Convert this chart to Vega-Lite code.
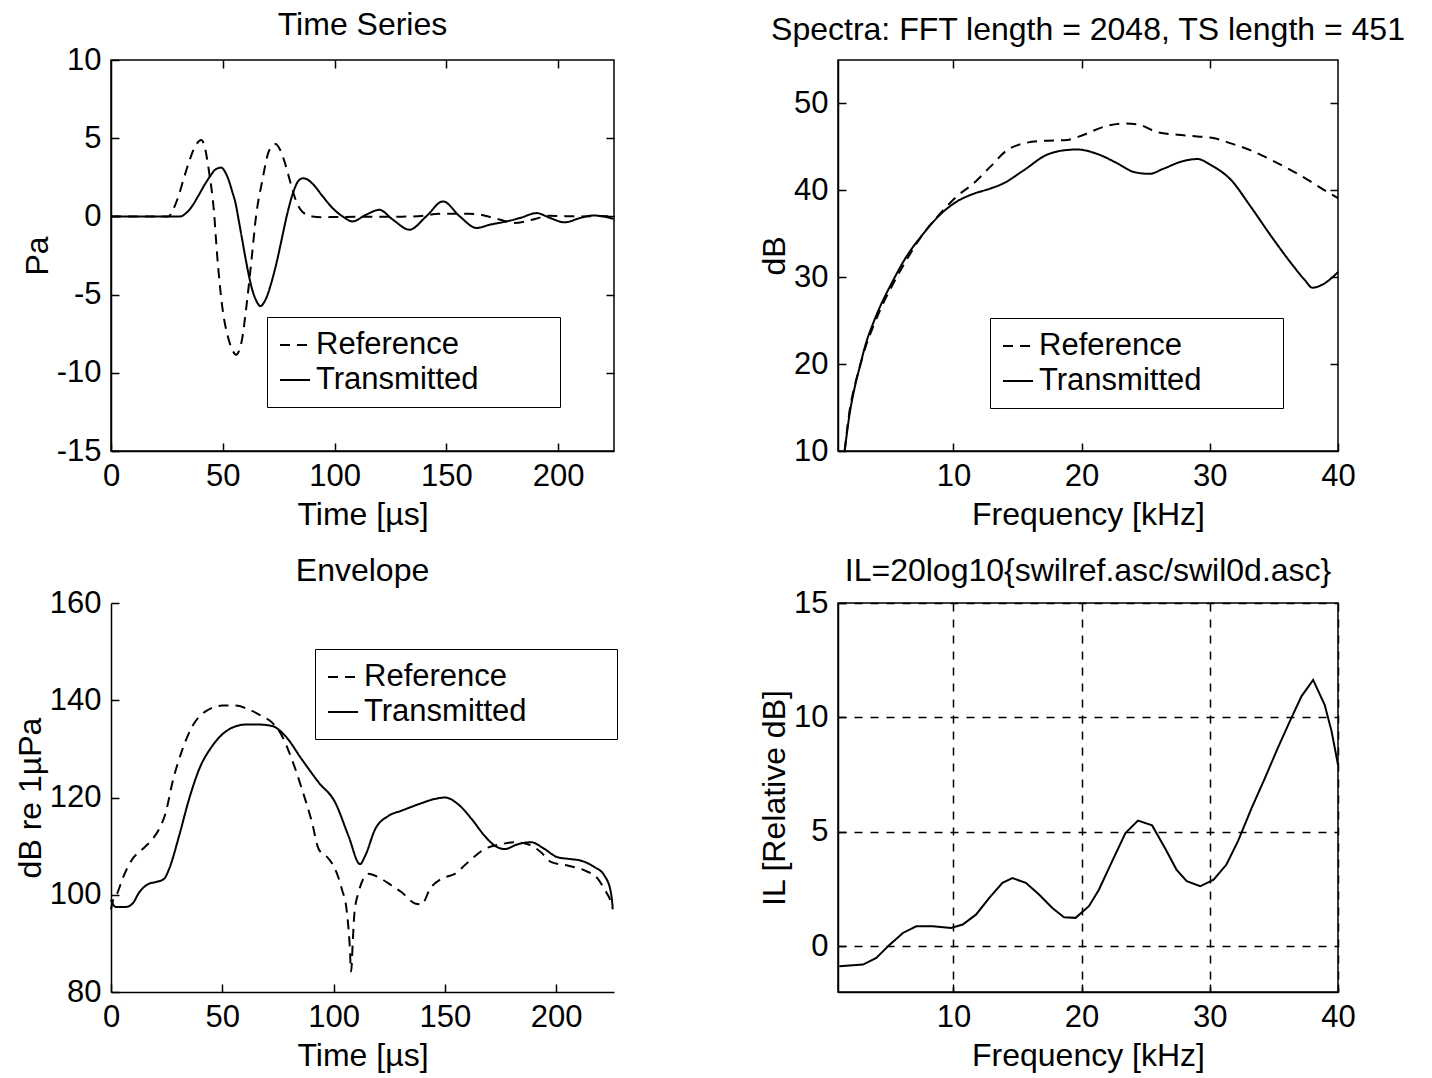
{
  "$schema": "https://vega.github.io/schema/vega-lite/v6.json",
  "padding": {"left": 14, "top": 8, "right": 5, "bottom": 5},
  "background": "white",
  "config": {
    "font": "Liberation Sans",
    "view": {"stroke": "black", "strokeWidth": 1.5},
    "axis": {
      "labelFont": "Liberation Sans", "labelFontSize": 31, "labelColor": "black",
      "titleFont": "Liberation Sans", "titleFontSize": 32, "titleFontWeight": "normal", "titleColor": "black",
      "domainColor": "black", "domainWidth": 1.5, "tickColor": "black", "tickWidth": 1.5,
      "tickSize": -8, "labelPadding": 18, "grid": false, "labelFlush": false, "labelOverlap": false
    },
    "axisX": {"titlePadding": 8},
    "axisY": {"titlePadding": 2},
    "title": {"font": "Liberation Sans", "fontSize": 32, "fontWeight": "normal", "color": "black"},
    "legend": {
      "orient": "none", "title": null, "labelFont": "Liberation Sans", "labelFontSize": 31, "labelColor": "black",
      "labelLimit": 500, "symbolType": "stroke", "symbolSize": 900, "symbolStrokeWidth": 2, "symbolStrokeColor": "black",
      "strokeColor": "black", "fillColor": "white", "padding": 12, "rowPadding": 4, "labelOffset": 5
    },
    "line": {"color": "black", "strokeWidth": 2}
  },
  "datasets": {
    "ts": [
      {"series": "Reference", "t": 0, "v": 0}, {"series": "Reference", "t": 10, "v": 0}, {"series": "Reference", "t": 20, "v": 0},
      {"series": "Reference", "t": 25.7, "v": 0}, {"series": "Reference", "t": 28, "v": 0.5}, {"series": "Reference", "t": 30.2, "v": 1.3},
      {"series": "Reference", "t": 32.5, "v": 2.4}, {"series": "Reference", "t": 34.7, "v": 3.4}, {"series": "Reference", "t": 37.7, "v": 4.5},
      {"series": "Reference", "t": 40.4, "v": 4.88}, {"series": "Reference", "t": 42, "v": 4.4}, {"series": "Reference", "t": 43.7, "v": 3.0},
      {"series": "Reference", "t": 46, "v": 0.4}, {"series": "Reference", "t": 47.5, "v": -2.5}, {"series": "Reference", "t": 49.7, "v": -5.7},
      {"series": "Reference", "t": 52.7, "v": -7.9}, {"series": "Reference", "t": 54.5, "v": -8.6}, {"series": "Reference", "t": 56, "v": -8.85},
      {"series": "Reference", "t": 57.5, "v": -8.5}, {"series": "Reference", "t": 58.7, "v": -7.8}, {"series": "Reference", "t": 60.2, "v": -6.2},
      {"series": "Reference", "t": 63.2, "v": -2.3}, {"series": "Reference", "t": 64.7, "v": -0.2}, {"series": "Reference", "t": 67.7, "v": 2.3},
      {"series": "Reference", "t": 70.7, "v": 4.2}, {"series": "Reference", "t": 73.7, "v": 4.63}, {"series": "Reference", "t": 75.5, "v": 4.3},
      {"series": "Reference", "t": 77.4, "v": 3.6}, {"series": "Reference", "t": 80.4, "v": 2.1}, {"series": "Reference", "t": 82.6, "v": 1.06},
      {"series": "Reference", "t": 85.6, "v": 0.3}, {"series": "Reference", "t": 90, "v": 0}, {"series": "Reference", "t": 95, "v": -0.05},
      {"series": "Reference", "t": 100, "v": -0.04}, {"series": "Reference", "t": 110, "v": -0.03}, {"series": "Reference", "t": 120, "v": -0.03},
      {"series": "Reference", "t": 130, "v": -0.02}, {"series": "Reference", "t": 140, "v": 0.05}, {"series": "Reference", "t": 145, "v": 0.15},
      {"series": "Reference", "t": 150, "v": 0.17}, {"series": "Reference", "t": 160, "v": 0.17}, {"series": "Reference", "t": 165, "v": 0.12},
      {"series": "Reference", "t": 170, "v": -0.05}, {"series": "Reference", "t": 175, "v": -0.25}, {"series": "Reference", "t": 180, "v": -0.42},
      {"series": "Reference", "t": 186, "v": -0.3}, {"series": "Reference", "t": 190, "v": -0.15}, {"series": "Reference", "t": 196, "v": 0.04},
      {"series": "Reference", "t": 202, "v": 0.02}, {"series": "Reference", "t": 210, "v": 0}, {"series": "Reference", "t": 218, "v": 0.02},
      {"series": "Reference", "t": 225, "v": 0},
      {"series": "Transmitted", "t": 0, "v": 0}, {"series": "Transmitted", "t": 10, "v": 0}, {"series": "Transmitted", "t": 20, "v": 0},
      {"series": "Transmitted", "t": 31, "v": 0}, {"series": "Transmitted", "t": 33.5, "v": 0.2}, {"series": "Transmitted", "t": 36.2, "v": 0.64},
      {"series": "Transmitted", "t": 39, "v": 1.3}, {"series": "Transmitted", "t": 42.2, "v": 2.1}, {"series": "Transmitted", "t": 44.5, "v": 2.6},
      {"series": "Transmitted", "t": 46.7, "v": 3.0}, {"series": "Transmitted", "t": 49.4, "v": 3.12}, {"series": "Transmitted", "t": 51, "v": 2.85},
      {"series": "Transmitted", "t": 52.7, "v": 2.3}, {"series": "Transmitted", "t": 54.2, "v": 1.6}, {"series": "Transmitted", "t": 55.7, "v": 0.85},
      {"series": "Transmitted", "t": 57.2, "v": -0.3}, {"series": "Transmitted", "t": 58.7, "v": -1.5}, {"series": "Transmitted", "t": 60.2, "v": -2.7},
      {"series": "Transmitted", "t": 61.7, "v": -3.8}, {"series": "Transmitted", "t": 63.2, "v": -4.7}, {"series": "Transmitted", "t": 64.7, "v": -5.3},
      {"series": "Transmitted", "t": 66.8, "v": -5.73}, {"series": "Transmitted", "t": 69.2, "v": -5.3}, {"series": "Transmitted", "t": 72.2, "v": -4.0},
      {"series": "Transmitted", "t": 74, "v": -3.0}, {"series": "Transmitted", "t": 76, "v": -1.7}, {"series": "Transmitted", "t": 78.9, "v": 0.2},
      {"series": "Transmitted", "t": 81.9, "v": 1.7}, {"series": "Transmitted", "t": 84, "v": 2.3}, {"series": "Transmitted", "t": 85.9, "v": 2.44},
      {"series": "Transmitted", "t": 88, "v": 2.35}, {"series": "Transmitted", "t": 90.1, "v": 2.1}, {"series": "Transmitted", "t": 94.6, "v": 1.3},
      {"series": "Transmitted", "t": 99.1, "v": 0.53}, {"series": "Transmitted", "t": 103.6, "v": 0}, {"series": "Transmitted", "t": 108, "v": -0.32},
      {"series": "Transmitted", "t": 114, "v": 0.1}, {"series": "Transmitted", "t": 120, "v": 0.42}, {"series": "Transmitted", "t": 126, "v": -0.2},
      {"series": "Transmitted", "t": 133.5, "v": -0.85}, {"series": "Transmitted", "t": 141, "v": 0}, {"series": "Transmitted", "t": 148.5, "v": 0.96},
      {"series": "Transmitted", "t": 156, "v": 0}, {"series": "Transmitted", "t": 163.5, "v": -0.74}, {"series": "Transmitted", "t": 169.5, "v": -0.53},
      {"series": "Transmitted", "t": 177, "v": -0.32}, {"series": "Transmitted", "t": 183, "v": -0.1}, {"series": "Transmitted", "t": 190.4, "v": 0.21},
      {"series": "Transmitted", "t": 196.4, "v": -0.1}, {"series": "Transmitted", "t": 203, "v": -0.38}, {"series": "Transmitted", "t": 209.9, "v": -0.1},
      {"series": "Transmitted", "t": 215.8, "v": 0.06}, {"series": "Transmitted", "t": 220, "v": 0}, {"series": "Transmitted", "t": 224.8, "v": -0.15}
    ],
    "spec": [
      {"series": "Reference", "f": 1.52, "db": 10}, {"series": "Reference", "f": 1.91, "db": 14.7}, {"series": "Reference", "f": 2.3, "db": 17.5},
      {"series": "Reference", "f": 2.7, "db": 19.7}, {"series": "Reference", "f": 3.2, "db": 22.2}, {"series": "Reference", "f": 3.74, "db": 24.3},
      {"series": "Reference", "f": 4.4, "db": 26.6}, {"series": "Reference", "f": 5.04, "db": 28.5}, {"series": "Reference", "f": 6.35, "db": 32},
      {"series": "Reference", "f": 7.65, "db": 35}, {"series": "Reference", "f": 8.96, "db": 37.3}, {"series": "Reference", "f": 10.26, "db": 39.3},
      {"series": "Reference", "f": 11.57, "db": 40.8}, {"series": "Reference", "f": 12.87, "db": 42.7}, {"series": "Reference", "f": 14.17, "db": 44.6},
      {"series": "Reference", "f": 15.48, "db": 45.4}, {"series": "Reference", "f": 17.04, "db": 45.7}, {"series": "Reference", "f": 18.87, "db": 45.8},
      {"series": "Reference", "f": 20.17, "db": 46.4}, {"series": "Reference", "f": 21.7, "db": 47.3}, {"series": "Reference", "f": 23.3, "db": 47.7},
      {"series": "Reference", "f": 24.35, "db": 47.6}, {"series": "Reference", "f": 25.9, "db": 46.7}, {"series": "Reference", "f": 27.5, "db": 46.4},
      {"series": "Reference", "f": 29.04, "db": 46.2}, {"series": "Reference", "f": 30.35, "db": 46.0}, {"series": "Reference", "f": 31.65, "db": 45.4},
      {"series": "Reference", "f": 33.2, "db": 44.6}, {"series": "Reference", "f": 34.8, "db": 43.5}, {"series": "Reference", "f": 36.35, "db": 42.3},
      {"series": "Reference", "f": 37.65, "db": 41.2}, {"series": "Reference", "f": 38.96, "db": 40.0}, {"series": "Reference", "f": 40, "db": 39.1},
      {"series": "Transmitted", "f": 1.52, "db": 10}, {"series": "Transmitted", "f": 1.91, "db": 14.3}, {"series": "Transmitted", "f": 2.3, "db": 17.3},
      {"series": "Transmitted", "f": 2.7, "db": 19.7}, {"series": "Transmitted", "f": 3.2, "db": 22.5}, {"series": "Transmitted", "f": 3.74, "db": 24.7},
      {"series": "Transmitted", "f": 4.4, "db": 27}, {"series": "Transmitted", "f": 5.04, "db": 28.9}, {"series": "Transmitted", "f": 6.35, "db": 32.4},
      {"series": "Transmitted", "f": 7.65, "db": 35.0}, {"series": "Transmitted", "f": 8.96, "db": 37.2}, {"series": "Transmitted", "f": 10.26, "db": 38.7},
      {"series": "Transmitted", "f": 11.57, "db": 39.6}, {"series": "Transmitted", "f": 12.87, "db": 40.2}, {"series": "Transmitted", "f": 13.9, "db": 40.8},
      {"series": "Transmitted", "f": 15.48, "db": 42.3}, {"series": "Transmitted", "f": 17.3, "db": 44.1}, {"series": "Transmitted", "f": 18.6, "db": 44.6},
      {"series": "Transmitted", "f": 19.65, "db": 44.7}, {"series": "Transmitted", "f": 21.2, "db": 44.2}, {"series": "Transmitted", "f": 22.8, "db": 43.1},
      {"series": "Transmitted", "f": 24.1, "db": 42.1}, {"series": "Transmitted", "f": 25.3, "db": 41.9}, {"series": "Transmitted", "f": 26.4, "db": 42.5},
      {"series": "Transmitted", "f": 28.0, "db": 43.4}, {"series": "Transmitted", "f": 29.04, "db": 43.6}, {"series": "Transmitted", "f": 30.1, "db": 42.9},
      {"series": "Transmitted", "f": 31.65, "db": 41.2}, {"series": "Transmitted", "f": 33.2, "db": 38.1}, {"series": "Transmitted", "f": 34.8, "db": 34.7},
      {"series": "Transmitted", "f": 36.35, "db": 31.6}, {"series": "Transmitted", "f": 37.4, "db": 29.7}, {"series": "Transmitted", "f": 38.0, "db": 28.8},
      {"series": "Transmitted", "f": 38.96, "db": 29.3}, {"series": "Transmitted", "f": 40, "db": 30.6}
    ],
    "env": [
      {"series": "Reference", "t": 0, "db": 97}, {"series": "Reference", "t": 0.7, "db": 98.5}, {"series": "Reference", "t": 3, "db": 100.5},
      {"series": "Reference", "t": 5.2, "db": 103.3}, {"series": "Reference", "t": 9.7, "db": 107.4}, {"series": "Reference", "t": 14.2, "db": 109.4},
      {"series": "Reference", "t": 18.7, "db": 111.5}, {"series": "Reference", "t": 21.6, "db": 113.5}, {"series": "Reference", "t": 24.6, "db": 116.9},
      {"series": "Reference", "t": 27.6, "db": 123.1}, {"series": "Reference", "t": 32.1, "db": 129.9}, {"series": "Reference", "t": 36.6, "db": 134.7},
      {"series": "Reference", "t": 42.5, "db": 137.7}, {"series": "Reference", "t": 50, "db": 138.9}, {"series": "Reference", "t": 56, "db": 138.9},
      {"series": "Reference", "t": 61.9, "db": 138.1}, {"series": "Reference", "t": 67.9, "db": 136.7}, {"series": "Reference", "t": 72.4, "db": 135.4},
      {"series": "Reference", "t": 76.9, "db": 132.6}, {"series": "Reference", "t": 81.3, "db": 127.8}, {"series": "Reference", "t": 85.8, "db": 121.7},
      {"series": "Reference", "t": 90.3, "db": 114.9}, {"series": "Reference", "t": 93.3, "db": 109.4}, {"series": "Reference", "t": 97.8, "db": 107.4},
      {"series": "Reference", "t": 100.7, "db": 105.3}, {"series": "Reference", "t": 103.7, "db": 101.2}, {"series": "Reference", "t": 106, "db": 96.4},
      {"series": "Reference", "t": 107.2, "db": 90}, {"series": "Reference", "t": 107.9, "db": 84.2}, {"series": "Reference", "t": 108.6, "db": 90},
      {"series": "Reference", "t": 109.3, "db": 95.8}, {"series": "Reference", "t": 111.2, "db": 100.5}, {"series": "Reference", "t": 115.7, "db": 104.3},
      {"series": "Reference", "t": 120.1, "db": 103.6}, {"series": "Reference", "t": 126.1, "db": 101.9}, {"series": "Reference", "t": 130.6, "db": 100.5},
      {"series": "Reference", "t": 136.6, "db": 98.2}, {"series": "Reference", "t": 139.6, "db": 98}, {"series": "Reference", "t": 143.3, "db": 101.2},
      {"series": "Reference", "t": 148.5, "db": 103.3}, {"series": "Reference", "t": 154.5, "db": 104.3}, {"series": "Reference", "t": 160.4, "db": 106.7},
      {"series": "Reference", "t": 167.9, "db": 109.4}, {"series": "Reference", "t": 175.4, "db": 110.4}, {"series": "Reference", "t": 181.3, "db": 110.8},
      {"series": "Reference", "t": 187.3, "db": 110.4}, {"series": "Reference", "t": 193.3, "db": 108.7}, {"series": "Reference", "t": 197.8, "db": 106.7},
      {"series": "Reference", "t": 205.2, "db": 106}, {"series": "Reference", "t": 212.7, "db": 105}, {"series": "Reference", "t": 218.7, "db": 103.3},
      {"series": "Reference", "t": 221.6, "db": 101.2}, {"series": "Reference", "t": 224.6, "db": 98.5}, {"series": "Reference", "t": 225.5, "db": 97},
      {"series": "Transmitted", "t": 0, "db": 99}, {"series": "Transmitted", "t": 0.4, "db": 98.5}, {"series": "Transmitted", "t": 2.2, "db": 97.5},
      {"series": "Transmitted", "t": 6.7, "db": 97.5}, {"series": "Transmitted", "t": 9.7, "db": 98.2}, {"series": "Transmitted", "t": 12.7, "db": 100.5},
      {"series": "Transmitted", "t": 17.2, "db": 102.3}, {"series": "Transmitted", "t": 20.1, "db": 102.6}, {"series": "Transmitted", "t": 23.9, "db": 103.3},
      {"series": "Transmitted", "t": 26.1, "db": 105.3}, {"series": "Transmitted", "t": 30.6, "db": 112.1}, {"series": "Transmitted", "t": 35.1, "db": 119.7},
      {"series": "Transmitted", "t": 39.6, "db": 125.8}, {"series": "Transmitted", "t": 45.5, "db": 130.6}, {"series": "Transmitted", "t": 53, "db": 134},
      {"series": "Transmitted", "t": 60.4, "db": 135}, {"series": "Transmitted", "t": 66.4, "db": 135}, {"series": "Transmitted", "t": 72.4, "db": 134.7},
      {"series": "Transmitted", "t": 78.4, "db": 132.6}, {"series": "Transmitted", "t": 85.8, "db": 127.8}, {"series": "Transmitted", "t": 93.3, "db": 123.1},
      {"series": "Transmitted", "t": 100.7, "db": 119}, {"series": "Transmitted", "t": 106.7, "db": 112.1}, {"series": "Transmitted", "t": 111.9, "db": 106.3},
      {"series": "Transmitted", "t": 114.2, "db": 108}, {"series": "Transmitted", "t": 118.7, "db": 113.5}, {"series": "Transmitted", "t": 124.6, "db": 116.2},
      {"series": "Transmitted", "t": 130.6, "db": 117.3}, {"series": "Transmitted", "t": 138.1, "db": 118.6}, {"series": "Transmitted", "t": 145.5, "db": 119.7},
      {"series": "Transmitted", "t": 150, "db": 120}, {"series": "Transmitted", "t": 156, "db": 118.6}, {"series": "Transmitted", "t": 162, "db": 115.6},
      {"series": "Transmitted", "t": 167.9, "db": 112.1}, {"series": "Transmitted", "t": 172.4, "db": 110.1}, {"series": "Transmitted", "t": 176.9, "db": 109.4},
      {"series": "Transmitted", "t": 182.8, "db": 110.4}, {"series": "Transmitted", "t": 188.8, "db": 110.8}, {"series": "Transmitted", "t": 194.8, "db": 109.4},
      {"series": "Transmitted", "t": 200.7, "db": 107.7}, {"series": "Transmitted", "t": 205.2, "db": 107.4}, {"series": "Transmitted", "t": 211.2, "db": 107},
      {"series": "Transmitted", "t": 217.2, "db": 105.7}, {"series": "Transmitted", "t": 221.6, "db": 104}, {"series": "Transmitted", "t": 224.6, "db": 100.5},
      {"series": "Transmitted", "t": 225.4, "db": 97.5}
    ],
    "il": [
      {"f": 1.1, "il": -0.87}, {"f": 2.95, "il": -0.8}, {"f": 3.99, "il": -0.51}, {"f": 5.03, "il": 0.07}, {"f": 6.06, "il": 0.58},
      {"f": 7.1, "il": 0.87}, {"f": 8.4, "il": 0.87}, {"f": 9.82, "il": 0.8}, {"f": 10.73, "il": 0.95}, {"f": 11.76, "il": 1.38},
      {"f": 12.8, "il": 2.11}, {"f": 13.83, "il": 2.77}, {"f": 14.6, "il": 2.98}, {"f": 15.65, "il": 2.77}, {"f": 16.68, "il": 2.26},
      {"f": 17.72, "il": 1.67}, {"f": 18.63, "il": 1.27}, {"f": 19.53, "il": 1.24}, {"f": 20.57, "il": 1.75}, {"f": 21.35, "il": 2.47},
      {"f": 22.38, "il": 3.71}, {"f": 23.42, "il": 4.95}, {"f": 24.4, "il": 5.49}, {"f": 25.5, "il": 5.28}, {"f": 26.5, "il": 4.29},
      {"f": 27.4, "il": 3.35}, {"f": 28.2, "il": 2.84}, {"f": 29.25, "il": 2.62}, {"f": 30.3, "il": 2.91}, {"f": 31.3, "il": 3.57},
      {"f": 32.2, "il": 4.59}, {"f": 33.26, "il": 6.04}, {"f": 34.3, "il": 7.35}, {"f": 35.3, "il": 8.66}, {"f": 36.24, "il": 9.83},
      {"f": 37.15, "il": 10.92}, {"f": 38.06, "il": 11.64}, {"f": 38.96, "il": 10.55}, {"f": 39.5, "il": 9.39}, {"f": 40, "il": 7.93}
    ]
  },
  "columns": 2,
  "spacing": {"row": 152, "column": 224},
  "bounds": "flush",
  "resolve": {"scale": {"strokeDash": "independent"}, "legend": {"strokeDash": "independent"}},
  "concat": [
    {
      "title": {"text": "Time Series", "offset": 2},
      "width": 503, "height": 391,
      "data": {"name": "ts"},
      "layer": [
        {
          "mark": {"type": "line", "interpolate": "monotone"},
          "encoding": {
            "x": {"field": "t", "type": "quantitative", "scale": {"domain": [0, 225], "nice": false, "zero": false}, "axis": {"orient": "bottom", "values": [0, 50, 100, 150, 200], "title": "Time [µs]"}},
            "y": {"field": "v", "type": "quantitative", "scale": {"domain": [-15, 10], "nice": false, "zero": false}, "axis": {"orient": "left", "values": [-15, -10, -5, 0, 5, 10], "title": "Pa", "labelExpr": "datum.value < 0 ? '-' + abs(datum.value) : '' + datum.value"}},
            "strokeDash": {"field": "series", "type": "nominal", "scale": {"domain": ["Reference", "Transmitted"], "range": [[10, 7], [1, 0]]}, "legend": {"legendX": 156, "legendY": 257, "labelExpr": "datum.label + '\u00a0\u00a0\u00a0\u00a0\u00a0\u00a0\u00a0\u00a0\u200b'"}}
          }
        },
        {
          "mark": {"type": "line", "opacity": 0},
          "encoding": {
            "x": {"field": "t", "type": "quantitative", "scale": {"domain": [0, 225], "nice": false, "zero": false}, "axis": {"orient": "top", "values": [50, 100, 150, 200], "labels": false, "title": null, "domain": false}},
            "y": {"field": "v", "type": "quantitative", "scale": {"domain": [-15, 10], "nice": false, "zero": false}, "axis": {"orient": "right", "values": [-10, -5, 0, 5], "labels": false, "title": null, "domain": false}},
            "detail": {"field": "series", "type": "nominal"}
          }
        }
      ]
    },
    {
      "title": {"text": "Spectra: FFT length = 2048, TS length = 451", "offset": 12},
      "width": 500, "height": 391,
      "data": {"name": "spec"},
      "layer": [
        {
          "mark": {"type": "line", "interpolate": "monotone"},
          "encoding": {
            "x": {"field": "f", "type": "quantitative", "scale": {"domain": [1, 40], "nice": false, "zero": false}, "axis": {"orient": "bottom", "values": [10, 20, 30, 40], "title": "Frequency [kHz]"}},
            "y": {"field": "db", "type": "quantitative", "scale": {"domain": [10, 55], "nice": false, "zero": false}, "axis": {"orient": "left", "values": [10, 20, 30, 40, 50], "title": "dB"}},
            "strokeDash": {"field": "series", "type": "nominal", "scale": {"domain": ["Reference", "Transmitted"], "range": [[10, 7], [1, 0]]}, "legend": {"legendX": 152, "legendY": 258, "labelExpr": "datum.label + '\u00a0\u00a0\u00a0\u00a0\u00a0\u00a0\u00a0\u00a0\u200b'"}}
          }
        },
        {
          "mark": {"type": "line", "opacity": 0},
          "encoding": {
            "x": {"field": "f", "type": "quantitative", "scale": {"domain": [1, 40], "nice": false, "zero": false}, "axis": {"orient": "top", "values": [10, 20, 30], "labels": false, "title": null, "domain": false}},
            "y": {"field": "db", "type": "quantitative", "scale": {"domain": [10, 55], "nice": false, "zero": false}, "axis": {"orient": "right", "values": [20, 30, 40, 50], "labels": false, "title": null, "domain": false}},
            "detail": {"field": "series", "type": "nominal"}
          }
        }
      ]
    },
    {
      "title": {"text": "Envelope", "offset": -1},
      "width": 503, "height": 389,
      "view": {"stroke": null},
      "data": {"name": "env"},
      "mark": {"type": "line", "interpolate": "monotone"},
      "encoding": {
        "x": {"field": "t", "type": "quantitative", "scale": {"domain": [0, 226], "nice": false, "zero": false}, "axis": {"values": [0, 50, 100, 150, 200], "title": "Time [µs]"}},
        "y": {"field": "db", "type": "quantitative", "scale": {"domain": [80, 160], "nice": false, "zero": false}, "axis": {"values": [80, 100, 120, 140, 160], "title": "dB re 1µPa"}},
        "strokeDash": {"field": "series", "type": "nominal", "scale": {"domain": ["Reference", "Transmitted"], "range": [[10, 7], [1, 0]]}, "legend": {"legendX": 204, "legendY": 46, "labelExpr": "datum.label + '\u00a0\u00a0\u00a0\u00a0\u00a0\u00a0\u00a0\u00a0\u00a0\u200b'"}}
      }
    },
    {
      "title": {"text": "IL=20log10{swilref.asc/swil0d.asc}", "offset": -1},
      "width": 500, "height": 389,
      "data": {"name": "il"},
      "mark": {"type": "line"},
      "encoding": {
        "x": {"field": "f", "type": "quantitative", "scale": {"domain": [1, 40], "nice": false, "zero": false}, "axis": {"values": [10, 20, 30, 40], "title": "Frequency [kHz]", "grid": true, "gridColor": "black", "gridDash": [8, 8], "gridWidth": 1.5, "gridOpacity": 1}},
        "y": {"field": "il", "type": "quantitative", "scale": {"domain": [-2, 15], "nice": false, "zero": false}, "axis": {"values": [0, 5, 10, 15], "title": "IL [Relative dB]", "grid": true, "gridColor": "black", "gridDash": [8, 8], "gridWidth": 1.5, "gridOpacity": 1}}
      }
    }
  ]
}
